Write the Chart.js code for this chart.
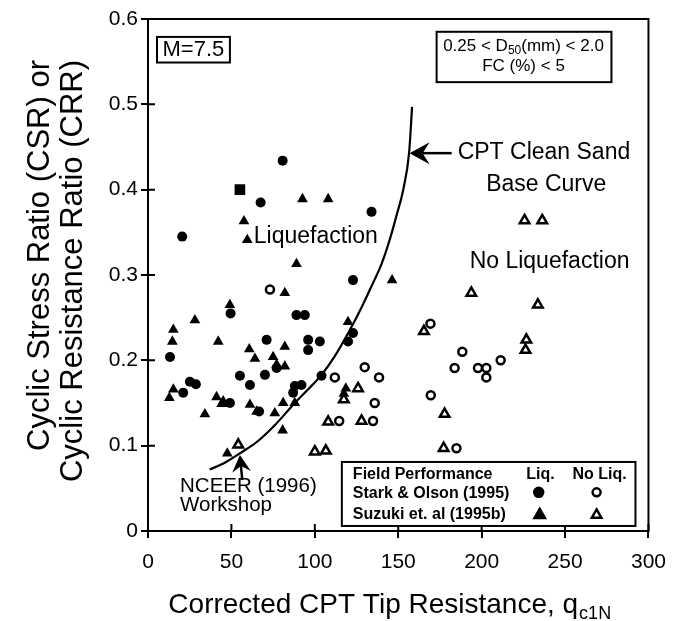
<!DOCTYPE html>
<html lang="en">
<head>
  <meta charset="UTF-8" />
  <title>CPT Clean Sand Base Curve</title>
  <script src="https://cdn.jsdelivr.net/npm/chart.js@4.4.0/dist/chart.umd.min.js"></script>
  <style>
    * { margin: 0; padding: 0; box-sizing: border-box; }
    body { background: #fff; width: 678px; height: 621px; overflow: hidden; }
    canvas { display: block; }
  </style>
</head>
<body>
  <canvas id="cptChart" width="678" height="621"></canvas>

  <script>
    // ---- values ----
    const xTickValues = [0, 50, 100, 150, 200, 250, 300];
    const yTickValues = [0, 0.1, 0.2, 0.3, 0.4, 0.5, 0.6];

    // Stark & Olson (1995), liquefaction (filled circles)
    const starkLiqQ   = [80.7, 67.5, 134.0, 20.5, 122.9, 49.5, 89.0, 94.0, 71.1, 96.0, 103.0, 96.0, 122.9, 119.9,
                         13.2, 77.1, 55.1, 70.1, 104.0, 61.1, 25.1, 28.7, 88.0, 92.0, 87.0, 21.1, 49.1, 66.6];
    const starkLiqCSR = [0.434, 0.385, 0.374, 0.345, 0.294, 0.255, 0.253, 0.253, 0.224, 0.224, 0.222, 0.212, 0.232, 0.222,
                         0.204, 0.191, 0.182, 0.183, 0.182, 0.171, 0.175, 0.172, 0.170, 0.171, 0.162, 0.162, 0.150, 0.140];

    // Suzuki et al (1995b), liquefaction (filled triangles)
    const suzukiLiqQ   = [92.6, 108.0, 57.5, 59.5, 89.0, 82.0, 146.3, 49.1, 28.1, 15.2, 14.6, 42.1, 82.0, 60.7, 64.1, 75.0, 77.1,
                          82.0, 119.9, 15.2, 12.8, 118.6, 117.4, 41.1, 45.1, 44.1, 61.1, 65.1, 81.0, 76.0, 88.0, 34.1, 80.7, 47.5];
    const suzukiLiqCSR = [0.389, 0.389, 0.363, 0.341, 0.313, 0.279, 0.294, 0.265, 0.247, 0.236, 0.222, 0.222, 0.216, 0.213, 0.202, 0.204, 0.195,
                          0.193, 0.245, 0.166, 0.156, 0.167, 0.161, 0.157, 0.152, 0.149, 0.148, 0.140, 0.150, 0.138, 0.150, 0.137, 0.118, 0.091];

    // Stark & Olson (1995), no liquefaction (open circles)
    const starkNoLiqQ   = [73.1, 112.0, 129.9, 138.5, 135.9, 114.6, 134.9, 169.3, 188.4, 183.8, 197.8, 202.8, 202.8, 211.4, 169.5, 184.9];
    const starkNoLiqCSR = [0.283, 0.180, 0.192, 0.180, 0.150, 0.129, 0.129, 0.243, 0.210, 0.191, 0.191, 0.191, 0.180, 0.200, 0.159, 0.097];

    // Suzuki et al (1995b), no liquefaction (open triangles)
    const suzukiNoLiqQ   = [225.7, 236.3, 193.8, 233.7, 165.4, 226.8, 226.3, 177.8, 177.2, 125.9, 117.4, 108.0, 128.0, 100.0, 106.6, 54.1];
    const suzukiNoLiqCSR = [0.364, 0.364, 0.279, 0.265, 0.234, 0.224, 0.212, 0.137, 0.097, 0.167, 0.154, 0.128, 0.129, 0.093, 0.094, 0.101];

    // single filled square
    const squareQ = [55.1];
    const squareCSR = [0.400];

    // CPT clean sand base curve
    const curveQ   = [37, 46, 55, 65, 76, 88, 96, 104, 112, 120, 128, 134, 140, 145, 149, 153, 156.5, 158.3];
    const curveCSR = [0.072, 0.080, 0.091, 0.104, 0.124, 0.150, 0.166, 0.183, 0.205, 0.232, 0.262, 0.287, 0.313, 0.342, 0.370, 0.400, 0.443, 0.497];

    const yTitleLines = ['Cyclic Stress Ratio (CSR) or', 'Cyclic Resistance Ratio (CRR)'];

    const FONT = '"Liberation Sans", Arial, Helvetica, sans-serif';
    const pts = (xs, ys) => xs.map((v, i) => ({ x: v, y: ys[i] }));

    function marker(ctx, style, x, y, r) {
      ctx.beginPath();
      if (style === 'circle') {
        ctx.arc(x, y, r, 0, Math.PI * 2);
      } else {
        for (let k = 0; k < 3; k++) {
          const rad = k * Math.PI * 2 / 3;
          const fx = x + Math.sin(rad) * r, fy = y - Math.cos(rad) * r;
          k === 0 ? ctx.moveTo(fx, fy) : ctx.lineTo(fx, fy);
        }
        ctx.closePath();
      }
      ctx.fill();
      ctx.stroke();
    }

    function arrow(ctx, x0, y0, x1, y1, size) {
      const a = Math.atan2(y1 - y0, x1 - x0);
      ctx.beginPath();
      ctx.moveTo(x0, y0);
      ctx.lineTo(x1 - Math.cos(a) * size * 0.6, y1 - Math.sin(a) * size * 0.6);
      ctx.stroke();
      ctx.save();
      ctx.translate(x1, y1);
      ctx.rotate(a);
      ctx.beginPath();
      ctx.moveTo(0, 0);
      ctx.lineTo(-size, -size * 0.55);
      ctx.lineTo(-size * 0.65, 0);
      ctx.lineTo(-size, size * 0.55);
      ctx.closePath();
      ctx.fill();
      ctx.restore();
    }

    function text(ctx, s, x, y, size, align, weight) {
      ctx.font = (weight || 'normal') + ' ' + size + 'px ' + FONT;
      ctx.textAlign = align || 'center';
      ctx.textBaseline = 'middle';
      ctx.fillText(s, x, y);
    }

    // frame, inner ticks, notes, boxes, legend and axis titles
    const notesPlugin = {
      id: 'notes',
      afterDraw(chart) {
        const { ctx, chartArea: a, scales: { x, y } } = chart;
        const px = v => x.getPixelForValue(v);
        const py = v => y.getPixelForValue(v);
        ctx.save();
        ctx.strokeStyle = '#000';
        ctx.fillStyle = '#000';
        ctx.lineWidth = 2;

        ctx.beginPath();
        ctx.moveTo(a.left - 1, a.top);
        ctx.lineTo(a.right, a.top);
        ctx.lineTo(a.right, a.bottom + 1);
        ctx.stroke();

        ctx.beginPath();
        xTickValues.forEach(v => { ctx.moveTo(px(v), a.bottom); ctx.lineTo(px(v), a.bottom - 7); });
        yTickValues.forEach(v => { ctx.moveTo(a.left, py(v)); ctx.lineTo(a.left + 7, py(v)); });
        ctx.stroke();

        // boxes
        ctx.strokeRect(px(5.4), py(0.579), px(49.1) - px(5.4), py(0.549) - py(0.579));
        text(ctx, 'M=7.5', px(27.2), py(0.564), 22);

        ctx.strokeRect(px(173), py(0.585), px(277.8) - px(173), py(0.526) - py(0.585));
        ctx.font = '17px ' + FONT;
        const p1 = '0.25 < D', p3 = '(mm) < 2.0';
        const w1 = ctx.measureText(p1).width, w3 = ctx.measureText(p3).width;
        ctx.font = '12px ' + FONT;
        const w2 = ctx.measureText('50').width;
        const lx = px(225.1) - (w1 + w2 + w3) / 2;
        const base = py(0.5695) + 6;
        ctx.textAlign = 'left';
        ctx.textBaseline = 'alphabetic';
        ctx.font = '17px ' + FONT;
        ctx.fillText(p1, lx, base);
        ctx.font = '12px ' + FONT;
        ctx.fillText('50', lx + w1, base + 3);
        ctx.font = '17px ' + FONT;
        ctx.fillText(p3, lx + w1 + w2, base);
        text(ctx, 'FC (%) < 5', px(225.1), py(0.5450), 17);

        // region labels
        text(ctx, 'Liquefaction', px(100.6), py(0.345), 23);
        text(ctx, 'No Liquefaction', px(240.7), py(0.3157), 23);
        text(ctx, 'CPT Clean Sand', px(185.6), py(0.4428), 23, 'left');
        text(ctx, 'Base Curve', px(238.7), py(0.4056), 23);
        text(ctx, 'NCEER (1996)', px(19.2), py(0.052), 20.5, 'left');
        text(ctx, 'Workshop', px(19.2), py(0.0305), 20.5, 'left');

        ctx.lineWidth = 2.5;
        arrow(ctx, px(182), py(0.4428), px(156.8), py(0.4428), 20);
        arrow(ctx, px(56.5), py(0.060), px(55.1), py(0.089), 17);
        ctx.lineWidth = 2;

        // legend table
        ctx.fillStyle = '#fff';
        ctx.fillRect(px(116.2), py(0.0809), px(292.2) - px(116.2), py(0.0059) - py(0.0809));
        ctx.strokeRect(px(116.2), py(0.0809), px(292.2) - px(116.2), py(0.0059) - py(0.0809));
        ctx.fillStyle = '#000';
        text(ctx, 'Field Performance', px(122.8), py(0.0657), 16, 'left', 'bold');
        text(ctx, 'Liq.', px(235.2), py(0.0657), 16, 'center', 'bold');
        text(ctx, 'No Liq.', px(270.7), py(0.0657), 16, 'center', 'bold');
        text(ctx, 'Stark & Olson (1995)', px(122.8), py(0.0434), 16, 'left', 'bold');
        text(ctx, 'Suzuki et. al (1995b)', px(122.8), py(0.0188), 16, 'left', 'bold');
        ctx.lineWidth = 2.5;
        ctx.fillStyle = '#000';
        marker(ctx, 'circle', px(234.2), py(0.0453), 4.5);
        marker(ctx, 'triangle', px(234.8), py(0.0188), 6);
        ctx.fillStyle = '#fff';
        marker(ctx, 'circle', px(268.9), py(0.0453), 4);
        marker(ctx, 'triangle', px(268.9), py(0.0188), 5.5);

        // y axis title: two lines, both ending at the same height
        ctx.fillStyle = '#000';
        ctx.font = '31px ' + FONT;
        ctx.textAlign = 'right';
        ctx.textBaseline = 'middle';
        [40, 73].forEach((cx, i) => {
          ctx.save();
          ctx.translate(cx, 60);
          ctx.rotate(-Math.PI / 2);
          ctx.fillText(yTitleLines[i], 0, 0);
          ctx.restore();
        });

        // x axis title with subscript
        ctx.textAlign = 'left';
        ctx.textBaseline = 'alphabetic';
        ctx.font = '28px ' + FONT;
        const main = 'Corrected CPT Tip Resistance, q';
        const wm = ctx.measureText(main).width;
        ctx.font = '18px ' + FONT;
        const ws = ctx.measureText('c1N').width;
        const tx = (a.left + a.right) / 2 - 9 - (wm + ws) / 2;
        ctx.font = '28px ' + FONT;
        ctx.fillText(main, tx, 613);
        ctx.font = '18px ' + FONT;
        ctx.fillText('c1N', tx + wm + 1, 619);
        ctx.restore();
      }
    };

    const openStyle = { backgroundColor: '#fff', borderColor: '#000', borderWidth: 2.5 };
    const solidStyle = { backgroundColor: '#000', borderColor: '#000', borderWidth: 0 };

    new Chart(document.getElementById('cptChart'), {
      type: 'scatter',
      data: {
        datasets: [
          { label: 'Stark & Olson (1995) Liq.', data: pts(starkLiqQ, starkLiqCSR), pointStyle: 'circle', pointRadius: 5, ...solidStyle },
          { label: 'Suzuki et. al (1995b) Liq.', data: pts(suzukiLiqQ, suzukiLiqCSR), pointStyle: 'triangle', pointRadius: 6.2, ...solidStyle },
          { label: 'Stark & Olson (1995) No Liq.', data: pts(starkNoLiqQ, starkNoLiqCSR), pointStyle: 'circle', pointRadius: 4, ...openStyle },
          { label: 'Suzuki et. al (1995b) No Liq.', data: pts(suzukiNoLiqQ, suzukiNoLiqCSR), pointStyle: 'triangle', pointRadius: 5.5, ...openStyle },
          { label: 'square', data: pts(squareQ, squareCSR), pointStyle: 'rect', pointRadius: 7.5, ...solidStyle },
          {
            label: 'CPT Clean Sand Base Curve',
            data: pts(curveQ, curveCSR),
            showLine: true,
            pointRadius: 0,
            borderColor: '#000',
            borderWidth: 2.2,
            cubicInterpolationMode: 'monotone',
            fill: false
          }
        ]
      },
      options: {
        responsive: false,
        animation: false,
        events: [],
        layout: { padding: { top: 19, right: 29, left: 0, bottom: 0 } },
        plugins: { legend: { display: false }, tooltip: { enabled: false } },
        scales: {
          x: {
            type: 'linear',
            min: 0,
            max: 300,
            afterFit: s => { s.height = 90; },
            afterBuildTicks: s => { s.ticks = xTickValues.map(v => ({ value: v })); },
            ticks: { color: '#000', padding: 12, autoSkip: false, maxRotation: 0, font: { family: FONT, size: 21 } },
            grid: { drawOnChartArea: false, drawTicks: true, tickLength: 7, color: '#000', lineWidth: 2 },
            border: { display: true, color: '#000', width: 2 }
          },
          y: {
            min: 0,
            max: 0.6,
            afterFit: s => { s.width = 148; },
            afterBuildTicks: s => { s.ticks = yTickValues.map(v => ({ value: v })); },
            ticks: {
              color: '#000',
              padding: 3,
              autoSkip: false,
              font: { family: FONT, size: 21 },
              callback: v => (v === 0 ? '0' : Number(v).toFixed(1))
            },
            grid: { drawOnChartArea: false, drawTicks: true, tickLength: 7, color: '#000', lineWidth: 2 },
            border: { display: true, color: '#000', width: 2 }
          }
        }
      },
      plugins: [notesPlugin]
    });
  </script>
</body>
</html>
